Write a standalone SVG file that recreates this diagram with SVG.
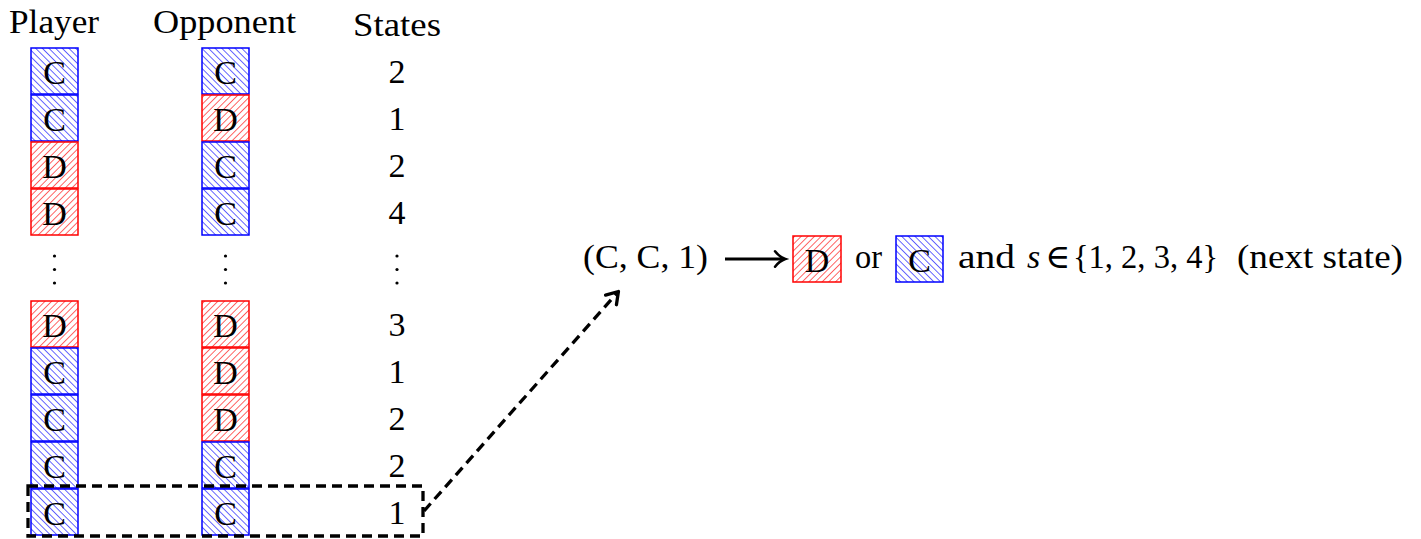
<svg xmlns="http://www.w3.org/2000/svg" width="1421" height="539" viewBox="0 0 1421 539">
<defs>
<pattern id="hb" patternUnits="userSpaceOnUse" width="4.7" height="4.7" patternTransform="rotate(-45)"><line x1="0" y1="0" x2="0" y2="4.7" stroke="#0000ff" stroke-width="1.2"/></pattern>
<pattern id="hr" patternUnits="userSpaceOnUse" width="4.7" height="4.7" patternTransform="rotate(45)"><line x1="0" y1="0" x2="0" y2="4.7" stroke="#ff0000" stroke-width="1.2"/></pattern>
<marker id="ah" markerWidth="6" markerHeight="6" refX="4.2" refY="3" orient="auto" markerUnits="strokeWidth"><path d="M1,0.8 L4.4,3 L1,5.2" fill="none" stroke="#000" stroke-width="1" stroke-linecap="round" stroke-linejoin="round"/></marker>
<marker id="ah2" markerWidth="6" markerHeight="6" refX="3.6" refY="3" orient="auto" markerUnits="strokeWidth"><path d="M0.8,0.6 Q2.2,2.4 4,3 Q2.2,3.6 0.8,5.4" fill="none" stroke="#000" stroke-width="0.8" stroke-linecap="round"/></marker>
</defs>
<style>
text{font-family:"Liberation Serif","DejaVu Serif",serif;font-size:34px;fill:#000}
.c{text-anchor:middle}
.b{fill:url(#hb);stroke:#0000ff;stroke-width:1.5}
.r{fill:url(#hr);stroke:#ff0000;stroke-width:1.5}
.dash{fill:none;stroke:#000;stroke-width:3.3;stroke-dasharray:10 6}
</style>
<g id="headers">
<text x="9" y="33" textLength="90" lengthAdjust="spacingAndGlyphs">Player</text>
<text x="153" y="33" textLength="143" lengthAdjust="spacingAndGlyphs">Opponent</text>
<text x="353" y="36" textLength="88" lengthAdjust="spacingAndGlyphs">States</text>
</g>
<g id="player">
<rect class="b" x="31" y="48" width="47" height="46"/><text class="c" x="54.5" y="84">C</text>
<rect class="b" x="31" y="95" width="47" height="46"/><text class="c" x="54.5" y="131">C</text>
<rect class="r" x="31" y="142" width="47" height="46"/><text class="c" x="54.5" y="178">D</text>
<rect class="r" x="31" y="189" width="47" height="46"/><text class="c" x="54.5" y="225">D</text>
<circle cx="54.5" cy="256" r="1.6"/><circle cx="54.5" cy="269.5" r="1.6"/><circle cx="54.5" cy="283" r="1.6"/>
<rect class="r" x="31" y="301" width="47" height="46"/><text class="c" x="54.5" y="337">D</text>
<rect class="b" x="31" y="348" width="47" height="46"/><text class="c" x="54.5" y="384">C</text>
<rect class="b" x="31" y="395" width="47" height="46"/><text class="c" x="54.5" y="431">C</text>
<rect class="b" x="31" y="442" width="47" height="46"/><text class="c" x="54.5" y="478">C</text>
<rect class="b" x="31" y="489" width="47" height="46"/><text class="c" x="54.5" y="525">C</text>
</g>
<g id="opponent">
<rect class="b" x="202" y="48" width="47" height="46"/><text class="c" x="225.5" y="84">C</text>
<rect class="r" x="202" y="95" width="47" height="46"/><text class="c" x="225.5" y="131">D</text>
<rect class="b" x="202" y="142" width="47" height="46"/><text class="c" x="225.5" y="178">C</text>
<rect class="b" x="202" y="189" width="47" height="46"/><text class="c" x="225.5" y="225">C</text>
<circle cx="225.5" cy="256" r="1.6"/><circle cx="225.5" cy="269.5" r="1.6"/><circle cx="225.5" cy="283" r="1.6"/>
<rect class="r" x="202" y="301" width="47" height="46"/><text class="c" x="225.5" y="337">D</text>
<rect class="r" x="202" y="348" width="47" height="46"/><text class="c" x="225.5" y="384">D</text>
<rect class="r" x="202" y="395" width="47" height="46"/><text class="c" x="225.5" y="431">D</text>
<rect class="b" x="202" y="442" width="47" height="46"/><text class="c" x="225.5" y="478">C</text>
<rect class="b" x="202" y="489" width="47" height="46"/><text class="c" x="225.5" y="525">C</text>
</g>
<g id="states">
<text class="c" x="397" y="83">2</text>
<text class="c" x="397" y="130">1</text>
<text class="c" x="397" y="177">2</text>
<text class="c" x="397" y="224">4</text>
<circle cx="397" cy="256" r="1.6"/><circle cx="397" cy="269.5" r="1.6"/><circle cx="397" cy="283" r="1.6"/>
<text class="c" x="397" y="336">3</text>
<text class="c" x="397" y="383">1</text>
<text class="c" x="397" y="430">2</text>
<text class="c" x="397" y="477">2</text>
<text class="c" x="397" y="524">1</text>
</g>
<g id="selection">
<rect class="dash" x="28" y="486" width="395" height="50"/>
</g>
<g id="tuple">
<text x="583" y="268" textLength="125" lengthAdjust="spacingAndGlyphs">(C, C, 1)</text>
</g>
<g id="outcome">
<rect class="r" x="793" y="236" width="48" height="46"/><text class="c" x="817" y="272">D</text>
<text x="855" y="268" textLength="27" lengthAdjust="spacingAndGlyphs">or</text>
<rect class="b" x="896" y="236" width="47" height="46"/><text class="c" x="919.5" y="272">C</text>
<text x="958" y="268" textLength="57" lengthAdjust="spacingAndGlyphs">and</text>
<text x="1027" y="268" font-style="italic">s</text>
<text x="1045" y="268" font-family="DejaVu Serif" font-size="27">∈</text>
<text x="1073" y="268" textLength="145" lengthAdjust="spacingAndGlyphs">{1, 2, 3, 4}</text>
<text x="1237" y="268" textLength="166" lengthAdjust="spacingAndGlyphs">(next state)</text>
</g>
<g id="connectors">
<line x1="424" y1="511" x2="618" y2="292" class="dash" marker-end="url(#ah)"/>
<line x1="725" y1="259" x2="784" y2="259" stroke="#000" stroke-width="3.2" marker-end="url(#ah2)"/>
</g>
</svg>
